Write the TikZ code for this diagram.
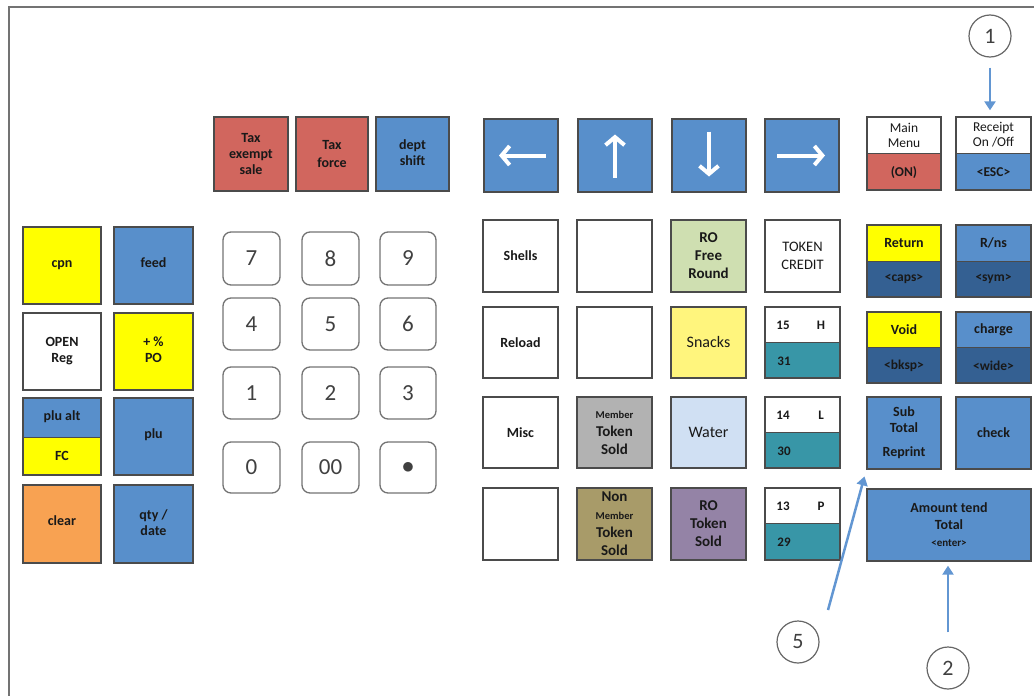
\documentclass[tikz,border=0pt]{standalone}
\usepackage{fontspec}
\setmainfont{Carlito}
\usetikzlibrary{arrows.meta,calc}
\definecolor{kblue}{RGB}{88,143,203}
\definecolor{kdblue}{RGB}{52,96,146}
\definecolor{kyellow}{RGB}{255,255,0}
\definecolor{kred}{RGB}{209,102,94}
\definecolor{korange}{RGB}{248,162,82}
\definecolor{kgreen}{RGB}{207,223,177}
\definecolor{ksnack}{RGB}{255,245,125}
\definecolor{kwater}{RGB}{208,224,243}
\definecolor{kgray}{RGB}{178,178,178}
\definecolor{kolive}{RGB}{168,155,105}
\definecolor{kpurple}{RGB}{148,131,166}
\definecolor{kteal}{RGB}{56,150,167}
\definecolor{kborder}{RGB}{75,75,75}
\definecolor{callblue}{RGB}{98,150,210}
\newcommand\kk[6][]{\node[key,#1,minimum width={#4-#2},minimum height={#5-#3}] (#6) at ({(#2+#4)/2},{(#3+#5)/2})}
\newcommand\sk[8]{%
  \fill[#7] (#2,#3) rectangle (#4,#6);
  \fill[#8] (#2,#6) rectangle (#4,#5);
  \draw[kborder,line width=1pt] (#2,#6) -- (#4,#6);
  \node[key,minimum width={#4-#2},minimum height={#5-#3}] (#1) at ({(#2+#4)/2},{(#3+#5)/2}) {};}
\newcommand\up[1]{\raisebox{7pt}{\begin{tabular}{@{}c@{}}#1\end{tabular}}}
\begin{document}
\begin{tikzpicture}[x=1pt,y=-1pt,
  key/.style={draw=kborder,line width=1.3pt,inner sep=0pt,align=center,text=black!90,
    font=\bfseries\fontsize{14}{16}\selectfont},
  lbl/.style={inner sep=0pt,align=center,text=black!90,font=\bfseries\fontsize{14}{16}\selectfont},
  bot/.style={lbl,font=\bfseries\fontsize{13.5}{16}\selectfont},
  top/.style={lbl,font=\fontsize{13.5}{15}\selectfont},
  big/.style={font=\bfseries\fontsize{15}{18}\selectfont},
  sml/.style={lbl,font=\bfseries\fontsize{13}{14}\selectfont},
  num/.style={draw=black!55,line width=1.3pt,rounded corners=8pt,inner sep=0pt,text=black!75,
    font=\fontsize{23}{26}\selectfont},
  arrkey/.style={key,fill=kblue},
  wa/.style={white,line width=4pt,-{Straight Barb[length=8pt,width=19pt]}},
  circ/.style={circle,draw=black!60,line width=1.2pt,minimum size=42pt,inner sep=0pt,
    text=black!75,font=\fontsize{22}{24}\selectfont},
  callarrow/.style={callblue,line width=2.5pt,-{Triangle[width=11pt,length=9pt]}}]
\useasboundingbox (0,0) rectangle (1034,696);
\clip (0,0) rectangle (1034,696);
\draw[black!55,line width=2pt] (9,7) rectangle (1050,710);

% left block
\kk[fill=kyellow]{23}{227}{101}{304}{cpn} {\up{cpn}};
\kk[fill=kblue]{114}{227}{193}{304}{feed} {\up{feed}};
\kk[fill=white]{23}{313}{101}{390}{open} {\up{OPEN\\Reg}};
\kk[fill=kyellow]{114}{313}{193}{390}{po} {\up{+ \%\\PO}};
\sk{plualt}{23}{398}{101}{475}{437}{kblue}{kyellow}
\node[lbl] (plualtt) at ($(plualt.north)!.25!(plualt.south)$) {plu alt};
\node[lbl] (plualtb) at ($(plualt.north)!.75!(plualt.south)$) {FC};
\kk[fill=kblue]{114}{398}{193}{475}{plu} {\up{plu}};
\kk[fill=korange]{23}{485}{101}{563}{clear} {\up{clear}};
\kk[fill=kblue]{114}{485}{193}{563}{qty} {\up{qty /\\date}};

% tax keys
\kk[fill=kred]{214}{117}{288}{191}{taxex} {Tax\\exempt\\sale};
\kk[fill=kred,font=\bfseries\fontsize{14}{18}\selectfont]{296}{117}{368}{191}{taxf} {Tax\\force};
\kk[fill=kblue]{376}{117}{449}{191}{dept} {\raisebox{6pt}{\begin{tabular}{@{}c@{}}dept\\shift\end{tabular}}};

% numeric pad
\kk[num]{223}{232}{280}{285}{n7} {7};
\kk[num]{302}{232}{359}{285}{n8} {8};
\kk[num]{380}{232}{436}{285}{n9} {9};
\kk[num]{223}{298}{280}{350}{n4} {4};
\kk[num]{302}{298}{359}{350}{n5} {5};
\kk[num]{380}{298}{436}{350}{n6} {6};
\kk[num]{223}{367}{280}{419}{n1} {1};
\kk[num]{302}{367}{359}{419}{n2} {2};
\kk[num]{380}{367}{436}{419}{n3} {3};
\kk[num]{223}{442}{280}{493}{n0} {0};
\kk[num]{302}{442}{359}{493}{n00} {00};
\kk[num]{380}{442}{436}{493}{ndot} {$\bullet$};

% arrow keys
\kk[arrkey]{484}{119}{558}{192}{kleft} {};
\kk[arrkey]{578}{119}{652}{192}{kup} {};
\kk[arrkey]{672}{119}{746}{192}{kdown} {};
\kk[arrkey]{765}{119}{839}{192}{kright} {};
\draw[wa] ($(kleft.center)+(25,0)$) -- ($(kleft.center)+(-22,0)$);
\draw[wa] ($(kup.center)+(0,22)$) -- ($(kup.center)+(0,-21)$);
\draw[wa] ($(kdown.center)+(0,-24)$) -- ($(kdown.center)+(0,21)$);
\draw[wa] ($(kright.center)+(-25,0)$) -- ($(kright.center)+(23,0)$);

% middle grid
\kk[fill=white]{483}{220}{558}{292}{shells} {Shells};
\kk[fill=white]{577}{220}{652}{292}{blank1} {};
\kk[fill=kgreen,big]{671}{220}{746}{292}{rofree} {RO\\Free\\Round};
\kk[fill=white,font=\fontsize{14.5}{18}\selectfont]{765}{220}{840}{292}{token} {TOKEN\\CREDIT};
\kk[fill=white]{483}{307}{558}{378}{reload} {Reload};
\kk[fill=white]{577}{307}{652}{378}{blank2} {};
\kk[fill=ksnack,font=\fontsize{16}{18}\selectfont]{671}{307}{746}{378}{snacks} {Snacks};
\sk{k15}{765}{307}{840}{378}{342}{white}{kteal}
\kk[fill=white]{483}{397}{558}{468}{misc} {Misc};
\kk[fill=kgray,big]{577}{397}{652}{468}{member} {\fontsize{10.5}{12}\selectfont Member\\\fontsize{15}{18}\selectfont Token\\\fontsize{15}{18}\selectfont Sold};
\kk[fill=kwater,font=\fontsize{16}{18}\selectfont]{671}{397}{746}{468}{water} {Water};
\sk{k14}{765}{397}{840}{468}{432}{white}{kteal}
\kk[fill=white]{483}{488}{558}{560}{blank3} {};
\kk[fill=kolive,big]{577}{488}{652}{560}{nonmember} {\fontsize{15}{15}\selectfont Non\\\fontsize{10.5}{13}\selectfont Member\\\fontsize{15}{17}\selectfont Token\\\fontsize{15}{17}\selectfont Sold};
\kk[fill=kpurple,big]{671}{488}{746}{560}{rotoken} {RO\\Token\\Sold};
\sk{k13}{765}{488}{840}{560}{523}{white}{kteal}
\node[sml] (k15a) at (783,325) {15};
\node[sml] (k15b) at (821,325) {H};
\node[sml] (k15c) at (784,361) {31};
\node[sml] (k14a) at (783,415) {14};
\node[sml] (k14b) at (821,415) {L};
\node[sml] (k14c) at (784,451) {30};
\node[sml] (k13a) at (783,506) {13};
\node[sml] (k13b) at (821,506) {P};
\node[sml] (k13c) at (784,542) {29};

% right block
\sk{mainmenu}{867}{117}{941}{190}{153}{white}{kred}
\node[top] (mmt) at ($(mainmenu.north)!.25!(mainmenu.south)$) {Main\\Menu};
\node[bot] (mmb) at ($(mainmenu.north)!.75!(mainmenu.south)$) {(ON)};
\sk{receipt}{956}{117}{1031}{190}{153}{white}{kblue}
\node[top] (rct) at ($(receipt.north)!.25!(receipt.south)$) {Receipt\\On /Off};
\node[bot] (rcb) at ($(receipt.north)!.75!(receipt.south)$) {<ESC>};
\sk{return}{867}{225}{941}{297}{261}{kyellow}{kdblue}
\node[lbl] (rtt) at ($(return.north)!.25!(return.south)$) {Return};
\node[bot] (rtb) at ($(return.north)!.75!(return.south)$) {<caps>};
\sk{rns}{956}{225}{1031}{297}{261}{kblue}{kdblue}
\node[lbl] (rnt) at ($(rns.north)!.25!(rns.south)$) {R/ns};
\node[bot] (rnb) at ($(rns.north)!.75!(rns.south)$) {<sym>};
\sk{void}{867}{312}{941}{383}{347}{kyellow}{kdblue}
\node[lbl] (vdt) at ($(void.north)!.25!(void.south)$) {Void};
\node[bot] (vdb) at ($(void.north)!.75!(void.south)$) {<bksp>};
\sk{charge}{956}{312}{1031}{383}{347}{kblue}{kdblue}
\node[lbl] (cht) at ($(charge.north)!.25!(charge.south)$) {charge};
\node[bot] (chb) at ($(charge.north)!.75!(charge.south)$) {<wide>};
\kk[fill=kblue]{867}{397}{941}{469}{sub} {Sub\\Total\\[8pt]Reprint};
\kk[fill=kblue]{956}{397}{1031}{469}{check} {check};
\kk[fill=kblue,font=\bfseries\fontsize{14}{17}\selectfont]{867}{489}{1031}{561}{amount} {Amount tend\\Total\\\fontsize{11}{16}\selectfont <enter>};

% callouts
\node[circ] (c1) at (990,36) {1};
\node[circ] (c5) at (798,642) {5};
\node[circ] (c2) at (948,668) {2};
\draw[callarrow,shorten <=10pt,shorten >=6pt] (c1) -- (c1 |- receipt.north);
\draw[callarrow,shorten <=14pt,shorten >=4pt] (c2) -- (c2 |- amount.south);
\coordinate (a5) at (828,610);
\draw[callarrow,shorten >=7pt] (a5) -- (sub.south west);
\end{tikzpicture}
\end{document}
